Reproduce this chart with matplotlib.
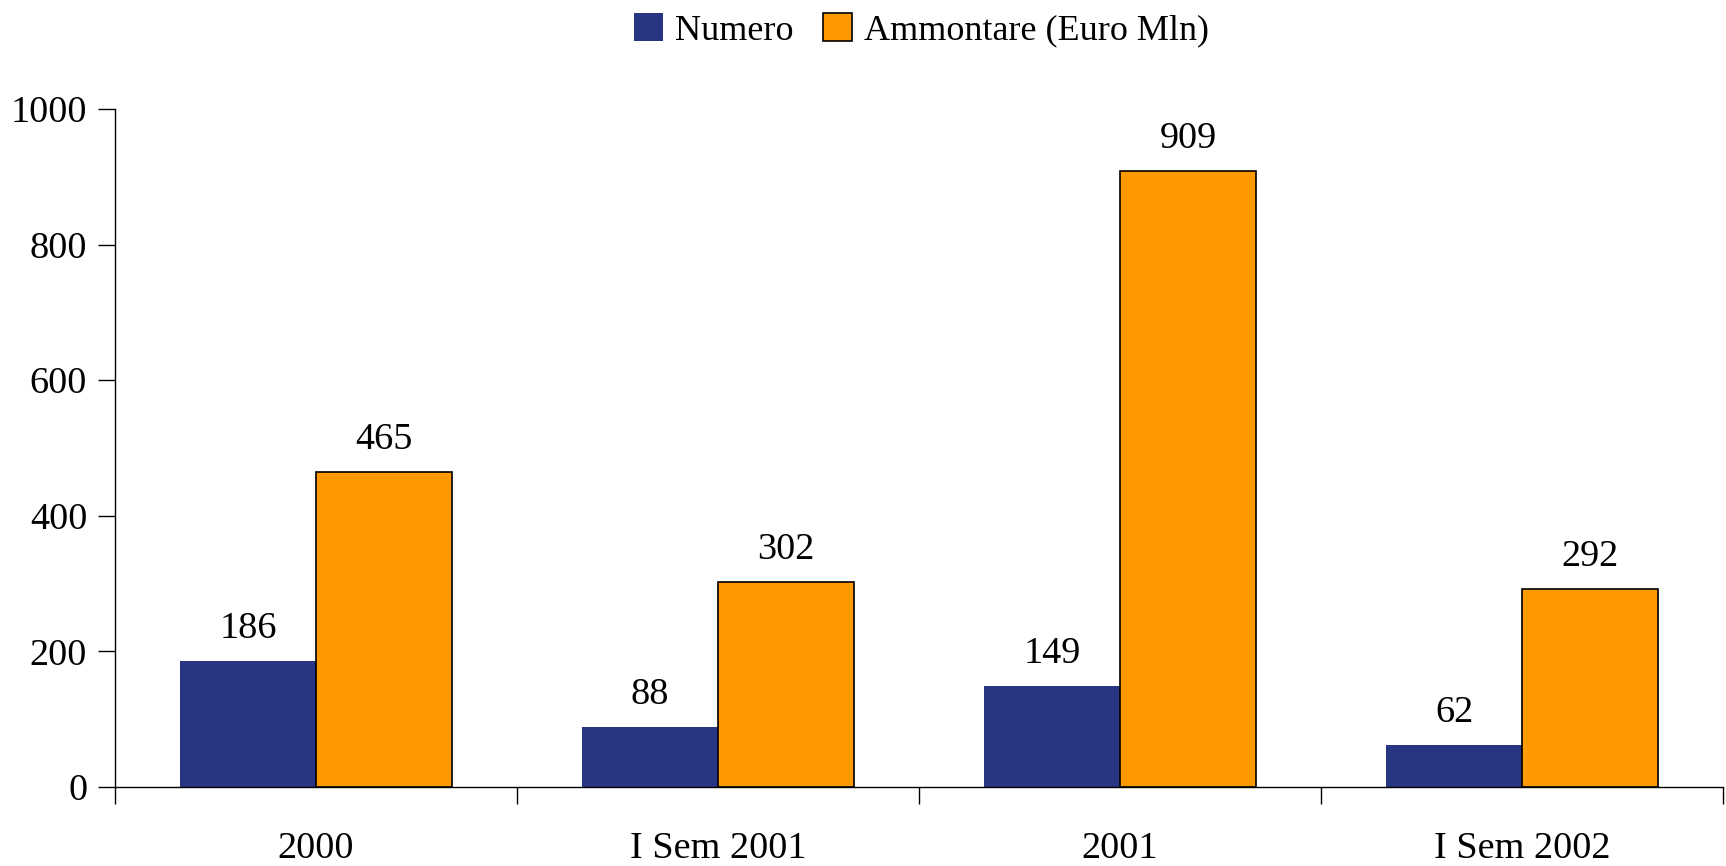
import numpy as np
from matplotlib import pyplot as plt

categories = ["2000", "I Sem 2001", "2001", "I Sem 2002"]
numero = [186, 88, 149, 62]
ammontare = [465, 302, 909, 292]

plt.rcParams["font.family"] = ["Liberation Serif", "DejaVu Serif"]
fs = 27.5

fig = plt.figure(figsize=(17.26, 8.66), dpi=100)
ax = fig.add_axes([115 / 1726, 1 - 787 / 866, (1723 - 115) / 1726, (787 - 109) / 866])

x = np.arange(len(categories))
w = 0.338
b1 = ax.bar(x - w / 2, numero, w, color="#283583", label="Numero")
b2 = ax.bar(x + w / 2, ammontare, w, color="#FF9900", edgecolor="black",
            linewidth=1.2, label="Ammontare (Euro Mln)")

for bars, vals in [(b1, numero), (b2, ammontare)]:
    for rect, v in zip(bars, vals):
        ax.text(rect.get_x() + rect.get_width() / 2, v + 22, f"{v}",
                ha="center", va="bottom", fontsize=fs)

ax.set_xlim(-0.5, len(categories) - 0.5)
ax.set_ylim(0, 1000)
ax.set_yticks([0, 200, 400, 600, 800, 1000])
ax.tick_params(axis="y", labelsize=fs, length=12, width=1, pad=8)

ax.set_xticks(x)
ax.set_xticklabels(categories)
ax.tick_params(axis="x", which="major", length=0, labelsize=fs, pad=32)
ax.set_xticks(np.arange(len(categories) + 1) - 0.5, minor=True)
ax.tick_params(axis="x", which="minor", length=12, width=1)

for side in ["top", "right"]:
    ax.spines[side].set_visible(False)
ax.spines["left"].set_linewidth(1)
ax.spines["bottom"].set_linewidth(1)

fig.legend(handles=[b1, b2], loc="upper center", bbox_to_anchor=(0.534, 1.022),
           ncol=2, frameon=False, fontsize=26, handlelength=0.8, handleheight=0.8,
           handletextpad=0.35, columnspacing=0.8)

plt.savefig("out.png", dpi=100)
plt.close()
